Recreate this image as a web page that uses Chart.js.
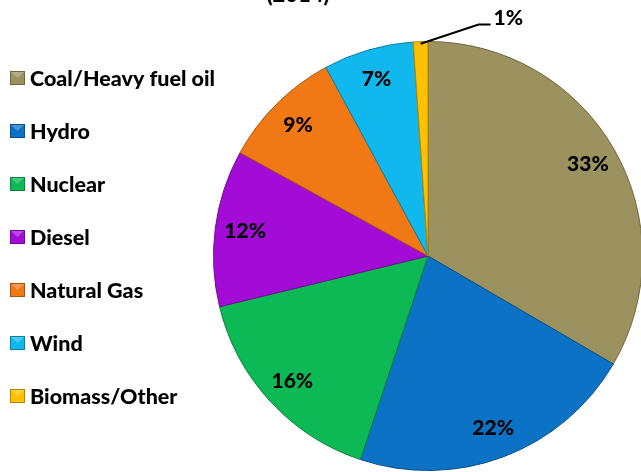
<!DOCTYPE html>
<html>
<head>
<meta charset="utf-8">
<script src="https://cdn.jsdelivr.net/npm/chart.js@4/dist/chart.umd.min.js"></script>
<style>
  html, body { margin: 0; padding: 0; background: #fff; overflow: hidden; width: 641px; height: 472px; }
  #wrap { position: absolute; left: 0; top: 0; width: 643px; height: 472px; }
</style>
</head>
<body>
<div id="wrap"><canvas id="c"></canvas></div>
<script>
// ---- data ----
const titleText = "(2014)";
const categories = ["Coal/Heavy fuel oil", "Hydro", "Nuclear", "Diesel", "Natural Gas", "Wind", "Biomass/Other"];
const shares = [33.4, 21.7, 16.1, 11.8, 9.1, 6.8, 1.1];
const sliceColors = ["#9B9260", "#0B72C6", "#0CB955", "#A30CD6", "#F07815", "#10B8EE", "#FFC000"];
const edgeColors  = ["#6E6840", "#084F8A", "#08813B", "#720996", "#A9540E", "#0B81A7", "#B38600"];

const FONT = "Lato, 'Open Sans', sans-serif";

const labelPlugin = {
  id: 'sliceLabels',
  afterDatasetsDraw(chart) {
    const ctx = chart.ctx;
    const meta = chart.getDatasetMeta(0);
    ctx.save();
    ctx.font = "900 21px " + FONT;
    ctx.fillStyle = "#000";
    ctx.textAlign = "center";
    ctx.textBaseline = "middle";
    meta.data.forEach((arc, i) => {
      const p = arc.getProps(['x','y','startAngle','endAngle','outerRadius']);
      const mid = (p.startAngle + p.endAngle) / 2;
      const txt = Math.round(shares[i]) + "%";
      if (shares[i] < 3) {
        const ex = p.x + Math.cos(mid) * p.outerRadius * 0.99;
        const ey = p.y + Math.sin(mid) * p.outerRadius * 0.99;
        const kx = p.x + Math.cos(mid) * p.outerRadius + 58;
        const ky = p.y - p.outerRadius - 17;
        ctx.strokeStyle = "#000";
        ctx.lineWidth = 2;
        ctx.beginPath();
        ctx.moveTo(ex, ey);
        ctx.lineTo(kx, ky);
        ctx.lineTo(kx + 12, ky);
        ctx.stroke();
        ctx.textAlign = "left";
        ctx.fillText(txt, kx + 15, ky - 6);
        ctx.textAlign = "center";
      } else {
        const r = p.outerRadius * 0.86;
        ctx.fillText(txt, p.x + Math.cos(mid) * r, p.y + Math.sin(mid) * r);
      }
    });
    ctx.restore();
  }
};

const legendPlugin = {
  id: 'sideLegend',
  afterDraw(chart) {
    const ctx = chart.ctx;
    ctx.save();
    ctx.font = "900 22px " + FONT;
    ctx.fillStyle = "#000";
    ctx.textAlign = "center";
    ctx.textBaseline = "alphabetic";
    ctx.fillText(titleText, 298, 2);
    ctx.font = "900 21.5px " + FONT;
    ctx.textAlign = "left";
    ctx.textBaseline = "middle";
    categories.forEach((name, i) => {
      const cy = 78 + i * 53;
      const x0 = 10, s = 15;
      ctx.fillStyle = sliceColors[i];
      ctx.fillRect(x0, cy - 7, s, s - 1);
      ctx.strokeStyle = edgeColors[i];
      ctx.lineWidth = 1;
      ctx.strokeRect(x0 + 0.5, cy - 6.5, s - 1, s - 2);
      ctx.fillStyle = "rgba(255,255,255,0.25)";
      ctx.beginPath();
      ctx.moveTo(x0 + 1, cy - 6);
      ctx.lineTo(x0 + s - 1, cy - 6);
      ctx.lineTo(x0 + s / 2, cy);
      ctx.closePath();
      ctx.fill();
      ctx.fillStyle = "#000";
      ctx.fillText(name, 30, cy + 1);
    });
    ctx.restore();
  }
};

new Chart(document.getElementById('c'), {
  type: 'pie',
  data: {
    labels: categories,
    datasets: [{
      data: shares,
      backgroundColor: sliceColors,
      borderColor: edgeColors,
      borderWidth: 1
    }]
  },
  options: {
    responsive: true,
    maintainAspectRatio: false,
    animation: false,
    layout: { padding: { left: 213, top: 41, right: 0, bottom: 1 } },
    plugins: {
      legend: { display: false },
      title: { display: false },
      tooltip: { enabled: false }
    }
  },
  plugins: [labelPlugin, legendPlugin]
});
</script>
</body>
</html>
